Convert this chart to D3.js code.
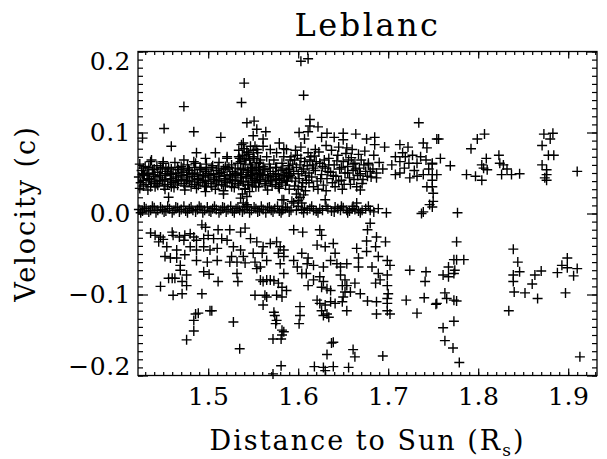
<!DOCTYPE html>
<html>
<head>
<meta charset="utf-8">
<script src="https://cdn.jsdelivr.net/npm/d3@7"></script>
<style>
body { margin: 0; background: #fff; }
text { font-family: "DejaVu Serif", serif; fill: #000; }
.tick text { font-size: 25px; letter-spacing: 0.5px; }
.tick line { stroke-width: 1.2; }
.axis-title { font-size: 27px; letter-spacing: 2px; }
.title { font-size: 32px; letter-spacing: 2.5px; }
</style>
</head>
<body>
<script>
var xTickValues = [1.5, 1.6, 1.7, 1.8, 1.9];
var xTickLabels = ["1.5", "1.6", "1.7", "1.8", "1.9"];
var yTickValues = [-0.2, -0.1, 0, 0.1, 0.2];
var yTickLabels = ["\u22120.2", "\u22120.1", "0.0", "0.1", "0.2"];

// [distance (Rs), velocity (c)]
// dense band near 0.045 c, inner corona
var bandRows = [
  [1.424,.061],[1.430,.058],[1.436,.064],[1.443,.059],[1.450,.062],[1.456,.057],[1.463,.063],[1.470,.058],[1.477,.060],[1.484,.064],
  [1.491,.057],[1.498,.061],[1.505,.059],[1.512,.063],[1.519,.058],[1.526,.060],[1.533,.062],[1.540,.066],[1.547,.060],[1.554,.063],
  [1.561,.058],[1.568,.061],[1.575,.057],[1.582,.062],[1.589,.059],
  [1.426,.053],[1.432,.050],[1.438,.054],[1.444,.051],[1.449,.055],[1.455,.052],[1.461,.050],[1.467,.054],[1.473,.051],[1.479,.053],
  [1.485,.050],[1.491,.054],[1.497,.052],[1.503,.049],[1.509,.053],[1.515,.051],[1.521,.055],[1.527,.052],[1.533,.050],[1.539,.054],
  [1.545,.051],[1.551,.053],[1.557,.050],[1.563,.054],[1.569,.052],[1.575,.049],[1.581,.053],[1.587,.051],
  [1.423,.045],[1.429,.047],[1.435,.043],[1.441,.046],[1.447,.044],[1.453,.047],[1.459,.043],[1.465,.045],[1.471,.047],[1.477,.044],
  [1.483,.046],[1.489,.043],[1.495,.045],[1.501,.047],[1.507,.044],[1.513,.046],[1.519,.043],[1.525,.045],[1.531,.047],[1.537,.044],
  [1.543,.046],[1.549,.043],[1.555,.045],[1.561,.047],[1.567,.044],[1.573,.046],[1.579,.043],[1.585,.045],[1.591,.047],
  [1.425,.038],[1.431,.036],[1.437,.039],[1.443,.037],[1.449,.040],[1.455,.036],[1.461,.038],[1.467,.040],[1.473,.037],[1.479,.039],
  [1.485,.036],[1.491,.038],[1.497,.040],[1.503,.037],[1.509,.039],[1.515,.036],[1.521,.038],[1.527,.040],[1.533,.037],[1.539,.039],
  [1.545,.036],[1.551,.038],[1.557,.040],[1.563,.037],[1.569,.039],[1.575,.036],[1.581,.038],[1.587,.040],
  [1.424,.031],[1.433,.029],[1.441,.033],[1.452,.030],[1.462,.032],[1.474,.029],[1.487,.031],[1.498,.033],[1.508,.030],[1.517,.028],
  [1.529,.032],[1.541,.030],[1.553,.033],[1.566,.029],[1.579,.031],[1.590,.030]
];
var bandFill = [
  [1.428,.056],[1.434,.057],[1.440,.055],[1.447,.057],[1.453,.056],[1.459,.055],[1.466,.057],[1.472,.056],[1.478,.055],[1.485,.057],
  [1.492,.056],[1.498,.055],[1.504,.057],[1.511,.056],[1.517,.055],[1.523,.057],[1.530,.056],[1.536,.055],[1.549,.056],[1.556,.057],
  [1.562,.055],[1.569,.056],[1.576,.057],[1.583,.055],[1.590,.056],
  [1.427,.048],[1.433,.049],[1.439,.048],[1.446,.047],[1.452,.049],[1.458,.048],[1.464,.049],[1.470,.047],[1.476,.048],[1.482,.049],
  [1.488,.048],[1.494,.047],[1.500,.049],[1.506,.048],[1.512,.049],[1.518,.047],[1.524,.048],[1.530,.049],[1.548,.048],[1.554,.049],
  [1.560,.048],[1.566,.047],[1.572,.049],[1.578,.048],[1.584,.047],[1.590,.049],
  [1.428,.041],[1.434,.042],[1.440,.040],[1.446,.041],[1.452,.042],[1.458,.040],[1.464,.041],[1.470,.042],[1.476,.041],[1.482,.040],
  [1.488,.042],[1.494,.041],[1.500,.040],[1.506,.042],[1.512,.041],[1.518,.040],[1.524,.042],[1.530,.041],[1.536,.040],[1.552,.041],
  [1.558,.042],[1.564,.040],[1.570,.041],[1.576,.042],[1.582,.041],[1.588,.040],
  [1.428,.034],[1.436,.033],[1.444,.035],[1.451,.034],[1.459,.033],[1.466,.035],[1.474,.034],[1.481,.033],[1.489,.035],[1.496,.034],
  [1.504,.033],[1.511,.035],[1.519,.034],[1.526,.033],[1.534,.035],[1.549,.034],[1.556,.033],[1.564,.035],[1.571,.034],[1.578,.033],
  [1.586,.035]
];
var bandEdges = [
  [1.437,.066],[1.450,.064],[1.473,.066],[1.486,.062],[1.497,.068],[1.521,.070],[1.534,.070],
  [1.456,.020],[1.517,.024],[1.497,.027],[1.536,.019],[1.582,.017],[1.539,.013],[1.543,.011]
];
var clusterNear154 = [
  [1.537,.085],[1.540,.080],[1.543,.076],[1.538,.072],[1.542,.068],[1.545,.073],[1.536,.064],[1.541,.061],[1.546,.066],[1.539,.056],
  [1.544,.053],[1.548,.057],[1.537,.048],[1.542,.044],[1.547,.047],[1.539,.039],[1.544,.035],[1.549,.040],[1.541,.031],[1.546,.027],
  [1.538,.024],[1.543,.021],[1.552,.083],[1.555,.075],[1.551,.068],[1.557,.062],[1.553,.055],[1.558,.048],[1.550,.078],[1.534,.078],
  [1.535,.068]
];
var clusterNear160 = [
  [1.592,.070],[1.596,.066],[1.599,.072],[1.603,.068],[1.607,.064],[1.594,.061],[1.598,.057],[1.602,.060],[1.606,.055],[1.610,.059],
  [1.595,.052],[1.600,.049],[1.604,.052],[1.608,.047],[1.612,.050],[1.593,.044],[1.597,.040],[1.601,.043],[1.605,.038],[1.609,.041],
  [1.596,.034],[1.600,.030],[1.604,.033],[1.608,.028],[1.598,.024],[1.602,.020],[1.606,.023],[1.600,.016],[1.604,.013],[1.613,.066],
  [1.616,.060],[1.611,.075],[1.597,.078],[1.603,.082],[1.590,.054],[1.589,.046]
];
var clusterMid = [
  [1.615,.045],[1.619,.053],[1.621,.040],[1.624,.062],[1.626,.048],[1.628,.035],[1.630,.056],[1.632,.043],[1.634,.068],[1.636,.051],
  [1.638,.038],[1.640,.060],[1.642,.046],[1.644,.072],[1.646,.055],[1.648,.041],[1.650,.064],[1.652,.050],[1.655,.058],[1.657,.044],
  [1.659,.069],[1.661,.053],[1.663,.062],[1.666,.047],[1.668,.056],[1.670,.066],[1.672,.042],[1.675,.052],[1.678,.060],[1.681,.045],
  [1.684,.072],[1.687,.050],[1.690,.063],[1.694,.055],[1.618,.071],[1.623,.076],[1.629,.066],[1.637,.078],[1.645,.082],[1.653,.074],
  [1.660,.079],[1.667,.073],[1.674,.077],[1.622,.030],[1.631,.028],[1.641,.033],[1.649,.030],[1.658,.036],[1.665,.033],[1.612,.038],
  [1.617,.033],[1.669,.029],[1.671,.037],[1.687,.044],[1.680,.052],[1.678,.062],
  [1.614,.070],[1.620,.064],[1.627,.058],[1.633,.052],[1.639,.047],[1.645,.040],[1.651,.036],[1.656,.066],[1.662,.042],[1.617,.056],
  [1.625,.043],[1.634,.060],[1.643,.065],[1.648,.057],[1.655,.050],[1.661,.061],[1.664,.055],[1.669,.049],[1.673,.060],[1.677,.046],
  [1.683,.055]
];
var upperScatter = [
  [1.603,.188],[1.611,.191],[1.606,.146],[1.613,.116],[1.613,.108],[1.622,.107],[1.601,.100],[1.607,.092],[1.611,.101],[1.626,.094],
  [1.632,.099],[1.640,.094],[1.650,.099],[1.650,.091],[1.664,.098],[1.676,.092],[1.685,.094],[1.685,.085],[1.696,.082],[1.654,.081],
  [1.584,.080],[1.631,.084],[1.619,.079],
  [1.540,.161],[1.537,.137],[1.473,.132],[1.451,.105],[1.484,.101],[1.427,.093],[1.459,.083],[1.514,.094],[1.543,.112],[1.551,.114],
  [1.554,.104],[1.564,.101],[1.550,.096],[1.561,.092],[1.579,.087],[1.487,.075],[1.508,.075],[1.521,.068],
  [1.539,.087],[1.547,.083],[1.554,.079],[1.561,.083],[1.569,.079],[1.576,.075],[1.584,.070],[1.565,.070],[1.550,.070],[1.543,.075],
  [1.558,.066],[1.573,.066],[1.587,.079],[1.591,.066]
];
var zeroBand = [
  [1.423,.005],[1.427,.003],[1.431,.006],[1.436,.004],[1.440,.007],[1.444,.004],[1.449,.005],[1.453,.003],[1.457,.006],[1.462,.004],
  [1.466,.007],[1.470,.005],[1.475,.003],[1.479,.006],[1.483,.004],[1.488,.005],[1.492,.007],[1.496,.004],[1.501,.003],[1.505,.006],
  [1.509,.005],[1.514,.004],[1.518,.007],[1.522,.005],[1.527,.003],[1.531,.006],[1.535,.004],[1.540,.005],[1.544,.008],[1.548,.004],
  [1.553,.006],[1.557,.003],[1.561,.005],[1.566,.007],[1.570,.004],[1.574,.006],[1.579,.003],[1.583,.005],[1.588,.007],[1.592,.004],
  [1.595,.013],[1.604,.005],[1.610,.004],[1.617,.004],[1.624,.006],[1.630,.017],[1.641,.008],[1.647,.004],[1.654,.004],[1.660,.006],
  [1.665,.013],[1.671,.004],[1.689,.006],[1.698,.001],[1.584,.017],[1.593,.015],[1.582,.004],
  [1.598,.004],[1.607,.007],[1.613,.006],[1.620,.003],[1.627,.004],[1.633,.006],[1.637,.003],[1.644,.006],[1.650,.007],[1.657,.003],
  [1.663,.005],[1.667,.003],[1.675,.006],[1.680,.004],
  [1.425,.001],[1.429,.008],[1.434,.002],[1.438,.009],[1.442,.001],[1.447,.008],[1.451,.002],[1.455,.009],[1.460,.001],[1.464,.008],
  [1.468,.002],[1.473,.009],[1.477,.001],[1.481,.008],[1.486,.002],[1.490,.009],[1.494,.001],[1.499,.008],[1.503,.002],[1.507,.009],
  [1.512,.001],[1.516,.008],[1.520,.002],[1.525,.009],[1.529,.001],[1.533,.008],[1.538,.002],[1.542,.009],[1.546,.001],[1.551,.008],
  [1.555,.002],[1.559,.009],[1.564,.001],[1.568,.008],[1.572,.002],[1.577,.009],[1.581,.001],[1.586,.008],[1.590,.002],[1.600,.009],
  [1.606,.001],[1.615,.009],[1.622,.001],[1.631,.009],[1.640,.002],[1.648,.009],[1.655,.001],[1.661,.009],[1.669,.001],[1.678,.009],
  [1.684,.002]
];
var lowerCloud = [
  [1.436,-.024],[1.441,-.027],[1.447,-.029],[1.445,-.035],[1.450,-.032],[1.460,-.023],[1.461,-.027],[1.468,-.029],[1.473,-.033],[1.474,-.027],
  [1.480,-.025],[1.484,-.029],[1.487,-.033],[1.493,-.014],[1.497,-.017],[1.495,-.031],[1.500,-.027],[1.506,-.031],[1.511,-.020],[1.524,-.020],
  [1.536,-.023],[1.541,-.018],[1.454,-.041],[1.465,-.045],[1.452,-.053],[1.458,-.055],[1.465,-.055],[1.480,-.041],[1.487,-.045],[1.495,-.041],
  [1.502,-.045],[1.510,-.043],[1.474,-.051],[1.469,-.064],[1.487,-.058],[1.499,-.060],[1.510,-.058],[1.515,-.031],[1.521,-.033],[1.528,-.041],
  [1.536,-.045],[1.526,-.053],[1.539,-.053],[1.547,-.031],[1.554,-.035],[1.561,-.041],[1.569,-.037],[1.576,-.035],[1.580,-.041],[1.584,-.045],
  [1.578,-.049],[1.584,-.053],[1.580,-.062],[1.550,-.049],[1.560,-.049],[1.565,-.058],[1.552,-.060],
  [1.447,-.090],[1.456,-.080],[1.460,-.080],[1.463,-.080],[1.471,-.084],[1.469,-.070],[1.476,-.076],[1.476,-.089],[1.461,-.101],[1.471,-.099],
  [1.493,-.099],[1.495,-.072],[1.501,-.075],[1.511,-.084],[1.486,-.124],[1.489,-.123],[1.484,-.132],[1.484,-.145],[1.476,-.156],[1.502,-.120],
  [1.504,-.120],[1.528,-.134],[1.535,-.167],[1.532,-.074],[1.533,-.084],[1.524,-.060],[1.532,-.060],[1.541,-.061],[1.558,-.066],[1.554,-.068],
  [1.558,-.082],[1.561,-.084],[1.565,-.082],[1.569,-.082],[1.573,-.083],[1.552,-.101],[1.563,-.101],[1.565,-.103],[1.578,-.086],[1.582,-.091],
  [1.576,-.101],[1.582,-.103],[1.587,-.095],[1.561,-.113],[1.573,-.122],[1.574,-.126],[1.576,-.132],[1.575,-.136],[1.582,-.144],[1.584,-.146],
  [1.582,-.150],[1.572,-.155],[1.581,-.155],[1.581,-.188],[1.572,-.198],[1.584,-.074],
  [1.595,-.020],[1.605,-.023],[1.624,-.020],[1.626,-.027],[1.680,-.012],[1.677,-.020],[1.687,-.029],[1.697,-.035],[1.676,-.034],[1.621,-.039],
  [1.630,-.041],[1.639,-.037],[1.641,-.049],[1.636,-.058],[1.604,-.049],[1.611,-.055],[1.665,-.043],[1.676,-.047],[1.686,-.041],[1.689,-.053],
  [1.699,-.058],[1.667,-.055],[1.595,-.058],[1.599,-.066],[1.617,-.064],[1.628,-.066],[1.654,-.062],[1.682,-.066],
  [1.610,-.062],[1.643,-.062],[1.667,-.066],[1.604,-.074],[1.609,-.074],[1.617,-.082],[1.611,-.089],[1.624,-.078],[1.628,-.084],[1.626,-.091],
  [1.632,-.093],[1.636,-.095],[1.647,-.066],[1.647,-.076],[1.652,-.082],[1.649,-.089],[1.654,-.089],[1.652,-.097],[1.658,-.097],[1.650,-.103],
  [1.663,-.086],[1.669,-.099],[1.689,-.074],[1.699,-.076],[1.691,-.082],[1.686,-.086],[1.699,-.089],[1.700,-.099],[1.699,-.105],[1.621,-.107],
  [1.624,-.111],[1.630,-.113],[1.636,-.109],[1.641,-.111],[1.649,-.109],[1.654,-.120],[1.626,-.120],[1.632,-.124],[1.628,-.126],[1.634,-.128],
  [1.602,-.115],[1.602,-.126],[1.601,-.136],[1.677,-.108],[1.687,-.109],[1.699,-.111],[1.687,-.124],[1.699,-.120],[1.702,-.124],[1.637,-.160],
  [1.639,-.159],[1.632,-.174],[1.661,-.168],[1.663,-.177],[1.694,-.176],[1.618,-.189],[1.628,-.190],[1.630,-.194],[1.639,-.189],[1.656,-.190]
];
var farUpper = [
  [1.734,.112],[1.754,.092],[1.713,.085],[1.722,.082],[1.739,.087],[1.743,.081],
  [1.756,.092],[1.799,.092],[1.807,.098],[1.792,.080],[1.823,.072],[1.809,.068],[1.758,.068],[1.873,.098],[1.883,.099],[1.880,.092],
  [1.871,.084],[1.878,.072],[1.884,.072],
  [1.749,.061],[1.769,.059],[1.804,.060],[1.806,.056],[1.810,.054],[1.824,.062],[1.828,.060],[1.832,.055],[1.787,.048],[1.797,.046],
  [1.804,.041],[1.826,.048],[1.837,.048],[1.846,.049],[1.871,.060],[1.876,.054],[1.876,.048],[1.874,.044],[1.876,.041],[1.910,.052],
  [1.749,.048],[1.754,.048],[1.749,.041],[1.749,.033],[1.750,.025],[1.750,.015],[1.749,.008],[1.777,.001],
  [1.708,.070],[1.713,.064],[1.719,.070],[1.723,.062],[1.732,.062],[1.736,.070],[1.749,.062],[1.713,.050],[1.724,.044],[1.732,.046],
  [1.739,.048],[1.708,.048],[1.743,.033],[1.746,.011],[1.739,.002],[1.737,.000],
  [1.716,.075],[1.727,.072],[1.742,.066],[1.718,.056],[1.729,.053],[1.745,.055],[1.704,.060]
];
var farLower = [
  [1.776,-.035],[1.839,-.044],[1.844,-.060],[1.899,-.055],[1.773,-.057],[1.776,-.057],[1.784,-.057],[1.767,-.066],[1.893,-.064],[1.899,-.067],
  [1.910,-.068],[1.761,-.076],[1.767,-.078],[1.773,-.074],[1.774,-.070],[1.763,-.098],[1.765,-.105],[1.773,-.107],[1.776,-.108],[1.753,-.112],
  [1.773,-.133],[1.761,-.141],[1.763,-.157],[1.772,-.166],[1.779,-.184],
  [1.846,-.072],[1.839,-.076],[1.839,-.084],[1.840,-.097],[1.852,-.098],[1.860,-.087],[1.863,-.076],[1.870,-.071],[1.866,-.105],[1.834,-.120],
  [1.888,-.073],[1.906,-.077],[1.897,-.098],[1.913,-.177],
  [1.724,-.070],[1.742,-.072],[1.741,-.084],[1.720,-.107],[1.740,-.104],[1.754,-.111],[1.732,-.123],[1.702,-.064]
];

var points = [].concat(bandRows, bandFill, bandEdges, clusterNear154, clusterNear160, clusterMid,
  upperScatter, zeroBand, lowerCloud, farUpper, farLower);

var w = 607, h = 459;
var plotLeft = 138, plotRight = 597, plotTop = 51.5, plotBottom = 375.5;

var svg = d3.select('body').append('svg').attr('width', w).attr('height', h);

var x = d3.scaleLinear().domain([1.422, 1.932]).range([plotLeft, plotRight]);
var y = d3.scaleLinear().domain([-0.2, 0.2]).range([plotBottom, plotTop]);

var xMinor = x.ticks(50);
var yMinor = y.ticks(40);

function noDomain(g) { g.select('.domain').remove(); }

// minor ticks on all four sides
svg.append('g').attr('transform', 'translate(0,' + plotBottom + ')')
  .call(d3.axisBottom(x).tickValues(xMinor).tickSizeInner(-3.5).tickSizeOuter(0).tickFormat(''))
  .call(noDomain);
svg.append('g').attr('transform', 'translate(0,' + plotTop + ')')
  .call(d3.axisTop(x).tickValues(xMinor).tickSizeInner(-3.5).tickSizeOuter(0).tickFormat(''))
  .call(noDomain);
svg.append('g').attr('transform', 'translate(' + plotLeft + ',0)')
  .call(d3.axisLeft(y).tickValues(yMinor).tickSizeInner(-5).tickSizeOuter(0).tickFormat(''))
  .call(noDomain);
svg.append('g').attr('transform', 'translate(' + plotRight + ',0)')
  .call(d3.axisRight(y).tickValues(yMinor).tickSizeInner(-5).tickSizeOuter(0).tickFormat(''))
  .call(noDomain);

// major ticks and labels
svg.append('g').attr('transform', 'translate(0,' + plotBottom + ')')
  .call(d3.axisBottom(x).tickValues(xTickValues).tickSizeInner(-7).tickSizeOuter(0).tickPadding(12)
    .tickFormat(function(d, i) { return xTickLabels[i]; }))
  .call(noDomain);
svg.append('g').attr('transform', 'translate(0,' + plotTop + ')')
  .call(d3.axisTop(x).tickValues(xTickValues).tickSizeInner(-7).tickSizeOuter(0).tickFormat(''))
  .call(noDomain);
var yAxisG = svg.append('g').attr('transform', 'translate(' + plotLeft + ',0)')
  .call(d3.axisLeft(y).tickValues(yTickValues).tickSizeInner(-10).tickSizeOuter(0).tickPadding(7)
    .tickFormat(function(d, i) { return yTickLabels[i]; }))
  .call(noDomain);
svg.append('g').attr('transform', 'translate(' + plotRight + ',0)')
  .call(d3.axisRight(y).tickValues(yTickValues).tickSizeInner(-10).tickSizeOuter(0).tickFormat(''))
  .call(noDomain);

// end labels kept inside the frame
yAxisG.selectAll('.tick text').attr('y', function(d) {
  var p = y(d);
  return Math.max(plotTop + 10, Math.min(plotBottom - 9, p)) - p;
});

svg.append('rect')
  .attr('x', plotLeft).attr('y', plotTop)
  .attr('width', plotRight - plotLeft).attr('height', plotBottom - plotTop)
  .attr('fill', 'none').attr('stroke', '#000').attr('stroke-width', 1.3);

svg.append('g').selectAll('path')
  .data(points)
  .enter().append('path')
    .attr('transform', function(d) { return 'translate(' + x(d[0]) + ',' + y(d[1]) + ')'; })
    .attr('d', 'M-5,0H5M0,-5V5')
    .attr('fill', 'none')
    .attr('stroke', '#000')
    .attr('stroke-width', 1.4);

svg.append('text')
  .attr('class', 'title')
  .attr('x', (plotLeft + plotRight) / 2).attr('y', 36)
  .attr('text-anchor', 'middle')
  .text('Leblanc');

var xt = svg.append('text')
  .attr('class', 'axis-title')
  .attr('x', (plotLeft + plotRight) / 2).attr('y', 450)
  .attr('text-anchor', 'middle');
xt.append('tspan').text('Distance to Sun (R');
xt.append('tspan').attr('dy', 6).style('font-size', '17px').text('s');
xt.append('tspan').attr('dy', -6).text(')');

svg.append('text')
  .attr('class', 'axis-title')
  .attr('transform', 'translate(35,' + ((plotTop + plotBottom) / 2) + ') rotate(-90)')
  .attr('text-anchor', 'middle')
  .text('Velocity (c)');
</script>
</body>
</html>
